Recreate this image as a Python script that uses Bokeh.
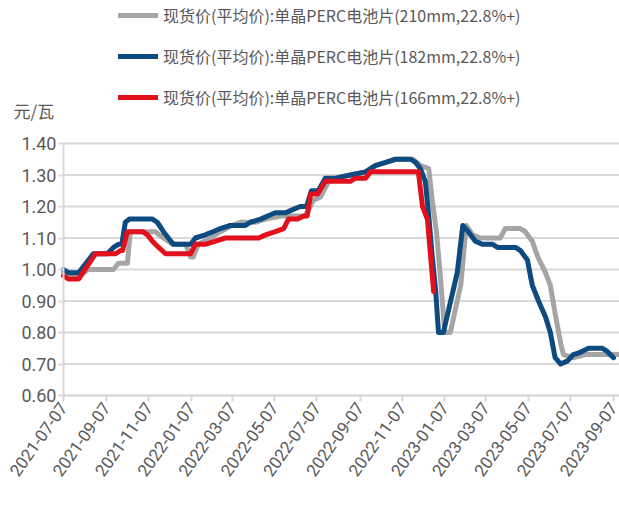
import math
import calendar
from datetime import datetime, timedelta

from bokeh.plotting import figure
from bokeh.models import (ColumnDataSource, Legend, LegendItem, Label, FixedTicker,
                          DatetimeTickFormatter, NumeralTickFormatter, Range1d)
from bokeh.embed import file_html
from bokeh.resources import INLINE

# ---------------- data ----------------
dates_210 = ["2021-07-07", "2021-07-29", "2021-08-12", "2021-09-17", "2021-09-24", "2021-10-07",
             "2021-10-11", "2021-11-16", "2021-11-28", "2021-12-11", "2021-12-30", "2022-01-06",
             "2022-01-10", "2022-01-17", "2022-02-04", "2022-02-18", "2022-03-07", "2022-03-19",
             "2022-04-09", "2022-04-24", "2022-05-16", "2022-06-20", "2022-07-02", "2022-07-12",
             "2022-07-24", "2022-08-03", "2022-08-24", "2022-09-15", "2022-09-29", "2022-10-14",
             "2022-10-28", "2022-11-22", "2022-12-03", "2022-12-15", "2022-12-20", "2022-12-26",
             "2023-01-01", "2023-01-07", "2023-01-15", "2023-01-30", "2023-02-07", "2023-02-16",
             "2023-02-27", "2023-03-28", "2023-04-04", "2023-04-26", "2023-05-03", "2023-05-13",
             "2023-05-21", "2023-06-01", "2023-06-08", "2023-06-15", "2023-06-23", "2023-06-27",
             "2023-07-10", "2023-07-29", "2023-09-16"]
price_210 = [0.99, 0.98, 1.00, 1.00, 1.02, 1.02,
             1.12, 1.12, 1.10, 1.08, 1.08, 1.04,
             1.04, 1.08, 1.10, 1.12, 1.14, 1.15,
             1.15, 1.16, 1.17, 1.17, 1.22, 1.23,
             1.28, 1.29, 1.30, 1.31, 1.33, 1.34,
             1.35, 1.35, 1.33, 1.32, 1.22, 1.12,
             0.97, 0.80, 0.80, 0.95, 1.14, 1.11,
             1.10, 1.10, 1.13, 1.13, 1.12, 1.09,
             1.04, 0.99, 0.95, 0.86, 0.765, 0.73,
             0.72, 0.73, 0.73]

dates_182 = ["2021-07-07", "2021-07-14", "2021-07-29", "2021-08-19", "2021-09-08", "2021-09-17",
             "2021-09-24", "2021-09-29", "2021-10-04", "2021-10-10", "2021-11-12", "2021-11-19",
             "2021-11-28", "2021-12-05", "2021-12-12", "2022-01-06", "2022-01-13", "2022-01-27",
             "2022-02-07", "2022-02-18", "2022-03-04", "2022-03-26", "2022-04-02", "2022-04-17",
             "2022-04-27", "2022-05-08", "2022-05-23", "2022-06-02", "2022-06-13", "2022-06-22",
             "2022-06-29", "2022-07-09", "2022-07-19", "2022-08-03", "2022-08-24", "2022-09-15",
             "2022-09-29", "2022-10-14", "2022-10-28", "2022-11-19", "2022-11-26", "2022-12-03",
             "2022-12-10", "2022-12-15", "2022-12-20", "2022-12-25", "2022-12-29", "2023-01-05",
             "2023-01-25", "2023-02-02", "2023-02-10", "2023-02-20", "2023-03-02", "2023-03-17",
             "2023-03-24", "2023-04-19", "2023-04-26", "2023-05-06", "2023-05-13", "2023-05-22",
             "2023-06-01", "2023-06-08", "2023-06-15", "2023-06-23", "2023-07-03", "2023-07-11",
             "2023-07-19", "2023-08-02", "2023-08-22", "2023-08-29", "2023-09-07"]
price_182 = [1.00, 0.99, 0.99, 1.05, 1.05, 1.07,
             1.08, 1.08, 1.15, 1.16, 1.16, 1.15,
             1.12, 1.10, 1.08, 1.08, 1.10, 1.11,
             1.12, 1.13, 1.14, 1.14, 1.15, 1.16,
             1.17, 1.18, 1.18, 1.19, 1.20, 1.20,
             1.25, 1.25, 1.29, 1.29, 1.30, 1.31,
             1.33, 1.34, 1.35, 1.35, 1.34, 1.32,
             1.28, 1.17, 1.04, 0.93, 0.80, 0.80,
             0.99, 1.14, 1.12, 1.09, 1.08, 1.08,
             1.07, 1.07, 1.06, 1.03, 0.95, 0.90,
             0.85, 0.80, 0.72, 0.70, 0.71, 0.73,
             0.735, 0.75, 0.75, 0.74, 0.72]

dates_166 = ["2021-07-07", "2021-07-14", "2021-07-29", "2021-08-22", "2021-09-20", "2021-09-27",
             "2021-09-30", "2021-10-07", "2021-10-29", "2021-11-05", "2021-11-12", "2021-11-21",
             "2021-12-01", "2022-01-06", "2022-01-13", "2022-01-27", "2022-02-11", "2022-02-25",
             "2022-04-14", "2022-04-24", "2022-05-08", "2022-05-20", "2022-05-27", "2022-06-09",
             "2022-06-18", "2022-06-23", "2022-06-28", "2022-07-08", "2022-07-19", "2022-08-24",
             "2022-08-31", "2022-09-15", "2022-09-22", "2022-11-30", "2022-12-06", "2022-12-13",
             "2022-12-22"]
price_166 = [0.98, 0.97, 0.97, 1.05, 1.05, 1.06,
             1.06, 1.12, 1.12, 1.11, 1.09, 1.07,
             1.05, 1.05, 1.08, 1.08, 1.09, 1.10,
             1.10, 1.11, 1.12, 1.13, 1.16, 1.16,
             1.17, 1.17, 1.24, 1.24, 1.28, 1.28,
             1.29, 1.29, 1.31, 1.31, 1.20, 1.16,
             0.93]

series_labels = ["现货价(平均价):单晶PERC电池片(210mm,22.8%+)",
                 "现货价(平均价):单晶PERC电池片(182mm,22.8%+)",
                 "现货价(平均价):单晶PERC电池片(166mm,22.8%+)"]
x_tick_labels = ["2021-07-07", "2021-09-07", "2021-11-07", "2022-01-07", "2022-03-07",
                 "2022-05-07", "2022-07-07", "2022-09-07", "2022-11-07", "2023-01-07",
                 "2023-03-07", "2023-05-07", "2023-07-07", "2023-09-07"]
y_ticks = [0.60, 0.70, 0.80, 0.90, 1.00, 1.10, 1.20, 1.30, 1.40]
unit_label = "元/瓦"

# ---------------- helpers ----------------
def to_dt(s):
    return datetime.strptime(s, "%Y-%m-%d")

def to_ms(dt):
    return calendar.timegm(dt.timetuple()) * 1000.0

GRAY = "#a5a5a5"
BLUE = "#0d4a80"
RED = "#e2101d"
TEXT = "#595959"
GRID = "#d9d9d9"

W, H = 619, 507
AX_L, AX_B = 63, 395          # page pixels of the axes' origin
PX_PER_DAY = 550 / 792.0
PX_PER_UNIT = 315.0

X0 = to_dt(x_tick_labels[0])
Y0 = y_ticks[0]
x_left = X0 - timedelta(days=AX_L / PX_PER_DAY)
x_right = X0 + timedelta(days=(W - AX_L) / PX_PER_DAY)
y_bottom = Y0 - (H - AX_B) / PX_PER_UNIT
y_top = Y0 + AX_B / PX_PER_UNIT

p = figure(width=W, height=H, output_backend="svg", toolbar_location=None,
           x_axis_type="datetime",
           x_range=Range1d(x_left, x_right), y_range=Range1d(y_bottom, y_top),
           min_border_left=0, min_border_right=0, min_border_top=0, min_border_bottom=0)
p.outline_line_color = None
p.background_fill_color = "white"
p.border_fill_color = "white"
p.xgrid.visible = False
p.ygrid.visible = False

# horizontal grid lines at the y ticks, starting at the y axis
p.segment(x0=[X0] * len(y_ticks), x1=[x_right] * len(y_ticks), y0=y_ticks, y1=y_ticks,
          line_color=GRID, line_width=2)

# ---------------- lines ----------------
src_210 = ColumnDataSource(dict(date=[to_dt(d) for d in dates_210], price=price_210))
src_182 = ColumnDataSource(dict(date=[to_dt(d) for d in dates_182], price=price_182))
src_166 = ColumnDataSource(dict(date=[to_dt(d) for d in dates_166], price=price_166))

r210 = p.line("date", "price", source=src_210, line_color=GRAY, line_width=5,
              line_join="round", line_cap="round")
r182 = p.line("date", "price", source=src_182, line_color=BLUE, line_width=5,
              line_join="round", line_cap="round")
r166 = p.line("date", "price", source=src_166, line_color=RED, line_width=5,
              line_join="round", line_cap="round")

# ---------------- axes ----------------
xt = FixedTicker(ticks=[to_ms(to_dt(s)) for s in x_tick_labels])
p.xaxis.ticker = xt
fmt = "%Y-%m-%d"
p.xaxis.formatter = DatetimeTickFormatter(days=fmt, months=fmt, years=fmt, hours=fmt,
                                          hourmin=fmt, minutes=fmt, minsec=fmt, seconds=fmt,
                                          milliseconds=fmt, microseconds=fmt)
p.xaxis.fixed_location = Y0
p.xaxis.bounds = (to_ms(X0), to_ms(x_right))
p.xaxis.major_label_orientation = 0.95
p.xaxis.axis_line_color = GRID
p.xaxis.axis_line_width = 2
p.xaxis.major_tick_line_color = GRID
p.xaxis.major_tick_line_width = 2
p.xaxis.major_tick_in = 0
p.xaxis.major_tick_out = 6
p.xaxis.minor_tick_line_color = None
p.xaxis.major_label_standoff = 3
p.xaxis.major_label_text_font = "Roboto"
p.xaxis.major_label_text_font_size = "17px"
p.xaxis.major_label_text_color = TEXT

yt = FixedTicker(ticks=y_ticks)
p.yaxis.ticker = yt
p.yaxis.formatter = NumeralTickFormatter(format="0.00")
p.yaxis.fixed_location = to_ms(X0)
p.yaxis.bounds = (y_ticks[0], y_ticks[-1])
p.yaxis.axis_line_color = GRID
p.yaxis.axis_line_width = 2
p.yaxis.major_tick_line_color = GRID
p.yaxis.major_tick_line_width = 2
p.yaxis.major_tick_in = 0
p.yaxis.major_tick_out = 5
p.yaxis.minor_tick_line_color = None
p.yaxis.major_label_standoff = 2
p.yaxis.major_label_text_font = "Roboto"
p.yaxis.major_label_text_font_size = "18px"
p.yaxis.major_label_text_color = TEXT

# ---------------- unit label ----------------
p.add_layout(Label(x=X0 - timedelta(days=(AX_L - 13) / PX_PER_DAY),
                   y=y_ticks[-1] + (143 - 110) / PX_PER_UNIT,
                   text=unit_label, text_align="left", text_baseline="middle",
                   text_font="Noto Sans CJK SC", text_font_size="17px", text_color=TEXT))

# ---------------- legend ----------------
legend = Legend(items=[LegendItem(label=series_labels[0], renderers=[r210]),
                       LegendItem(label=series_labels[1], renderers=[r182]),
                       LegendItem(label=series_labels[2], renderers=[r166])],
                location=(118, H - 109), orientation="vertical",
                glyph_width=40, glyph_height=20, label_height=20, spacing=17,
                label_standoff=5, padding=0, margin=0,
                label_text_font="Noto Sans CJK SC", label_text_font_size="16px",
                label_text_color=TEXT, background_fill_alpha=0, border_line_color=None)
p.add_layout(legend)

open("out.html", "w").write(file_html(p, INLINE))
